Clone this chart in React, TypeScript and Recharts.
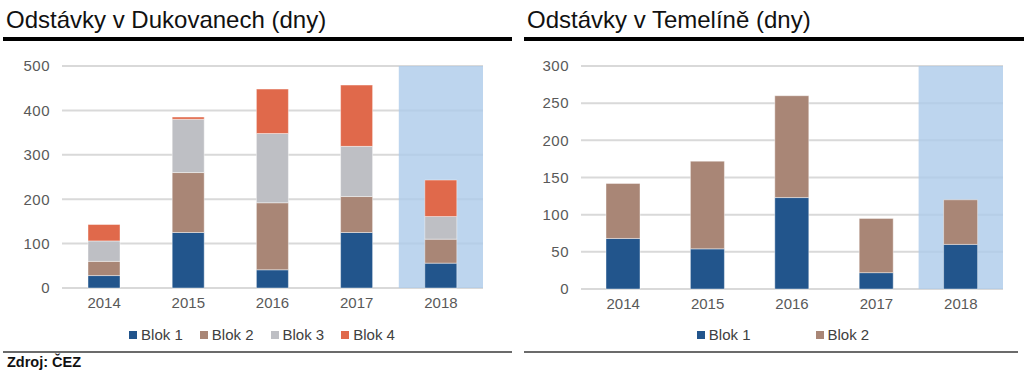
import React from "react"
import { BarChart, Bar, XAxis, YAxis, CartesianGrid, ReferenceArea, Legend } from "recharts"

const years = ["2014", "2015", "2016", "2017", "2018"]
const highlightYear = "2018"

// Dukovany – days of outage per unit
const dukBlok1 = [28, 125, 41, 125, 56]
const dukBlok2 = [32, 135, 151, 81, 54]
const dukBlok3 = [46, 120, 156, 113, 51]
const dukBlok4 = [37, 5, 100, 138, 82]
const dukTicks = [0, 100, 200, 300, 400, 500]

// Temelín
const temBlok1 = [68, 54, 123, 22, 60]
const temBlok2 = [74, 118, 137, 73, 60]
const temTicks = [0, 50, 100, 150, 200, 250, 300]

const colors = {
  blok1: "#22558C",
  blok2: "#A98676",
  blok3: "#BEBFC4",
  blok4: "#E0694B",
}

const font = "'Liberation Sans', Arial, sans-serif"

type Series = { key: string; name: string; values: number[]; color: string }

const dukSeries: Series[] = [
  { key: "b1", name: "Blok 1", values: dukBlok1, color: colors.blok1 },
  { key: "b2", name: "Blok 2", values: dukBlok2, color: colors.blok2 },
  { key: "b3", name: "Blok 3", values: dukBlok3, color: colors.blok3 },
  { key: "b4", name: "Blok 4", values: dukBlok4, color: colors.blok4 },
]

const temSeries: Series[] = [
  { key: "b1", name: "Blok 1", values: temBlok1, color: colors.blok1 },
  { key: "b2", name: "Blok 2", values: temBlok2, color: colors.blok2 },
]

function toRows(series: Series[]) {
  return years.map((year, i) => {
    const row: Record<string, string | number> = { year }
    series.forEach((s) => (row[s.key] = s.values[i]))
    return row
  })
}

interface PanelProps {
  left: number
  series: Series[]
  ticks: number[]
  yWidth: number
  marginRight: number
  marginBottom: number
  barSize: number
  legendGap: number
  legendLeft: number
  legendWidth: number
}

function Panel({ left, series, ticks, yWidth, marginRight, marginBottom, barSize, legendGap, legendLeft, legendWidth }: PanelProps) {
  const yMax = ticks[ticks.length - 1]
  const legend = () => (
    <div style={{ display: "flex", justifyContent: "center", gap: legendGap, fontFamily: font, fontSize: 15, color: "#404040" }}>
      {series.map((s) => (
        <div key={s.key} style={{ display: "flex", alignItems: "center" }}>
          <span style={{ width: 8, height: 8, background: s.color, marginRight: 4, display: "inline-block" }} />
          <span>{s.name}</span>
        </div>
      ))}
    </div>
  )
  return (
    <div style={{ position: "absolute", left, top: 0 }}>
      <BarChart
        width={512}
        height={378}
        data={toRows(series)}
        margin={{ top: 66, right: marginRight, bottom: marginBottom, left: 0 }}
      >
        <CartesianGrid vertical={false} stroke="#D9D9D9" strokeWidth={2} />
        {/* slightly translucent so the grid lines still show through the 2018 band */}
        <ReferenceArea x1={highlightYear} x2={highlightYear} y1={0} y2={yMax} fill="#ACCAEA" fillOpacity={0.8} stroke="none" />
        <XAxis
          dataKey="year"
          height={30}
          axisLine={false}
          tickLine={false}
          tickSize={0}
          tickMargin={9}
          tick={{ fontFamily: font, fontSize: 15, fill: "#595959" }}
        />
        <YAxis
          width={yWidth}
          domain={[0, yMax]}
          ticks={ticks}
          interval={0}
          axisLine={false}
          tickLine={false}
          tickSize={0}
          tickMargin={12}
          tick={{ fontFamily: font, fontSize: 15, fill: "#595959", letterSpacing: 0.5 }}
        />
        <Legend
          layout="horizontal"
          verticalAlign="middle"
          align="center"
          content={legend}
          wrapperStyle={{ top: 326, left: legendLeft, width: legendWidth }}
        />
        {series.map((s) => (
          <Bar
            key={s.key}
            dataKey={s.key}
            name={s.name}
            stackId="a"
            fill={s.color}
            stroke="#ffffff"
            strokeWidth={0.7}
            strokeOpacity={0.6}
            barSize={barSize}
            isAnimationActive={false}
          />
        ))}
      </BarChart>
    </div>
  )
}

export default function App() {
  return (
    <div style={{ position: "absolute", left: 0, top: 0, width: 1024, height: 378, background: "#fff", overflow: "hidden" }}>
      <svg width={1024} height={378} style={{ position: "absolute", left: 0, top: 0 }}>
        <text x={6} y={28} fontFamily={font} fontSize={24} fill="#111">Odstávky v Dukovanech (dny)</text>
        <text x={527} y={28} fontFamily={font} fontSize={24} fill="#111">Odstávky v Temelíně (dny)</text>
        <rect x={3} y={37} width={509} height={4} fill="#000" />
        <rect x={524} y={37} width={500} height={4} fill="#000" />
        <rect x={3} y={351} width={509} height={2} fill="#6b6b6b" />
        <rect x={524} y={351} width={494} height={2} fill="#6b6b6b" />
        <text x={7} y={367} fontFamily={font} fontSize={14.5} fontWeight="bold" fill="#111">Zdroj: ČEZ</text>
      </svg>
      <Panel
        left={0}
        series={dukSeries}
        ticks={dukTicks}
        yWidth={62}
        marginRight={29}
        marginBottom={60}
        barSize={32}
        legendGap={17}
        legendLeft={12}
        legendWidth={500}
      />
      <Panel
        left={512}
        series={temSeries}
        ticks={temTicks}
        yWidth={69}
        marginRight={21}
        marginBottom={59}
        barSize={34}
        legendGap={65}
        legendLeft={20}
        legendWidth={502}
      />
    </div>
  )
}
